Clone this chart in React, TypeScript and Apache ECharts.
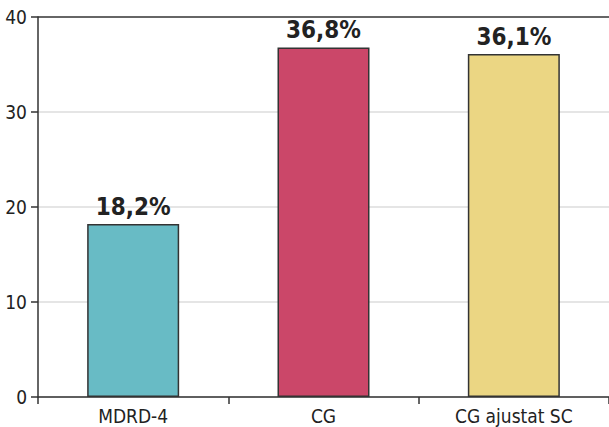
import React, { useEffect, useRef } from "react";
import * as echarts from "echarts";

const categories = ["MDRD-4", "CG", "CG ajustat SC"];
const values = [18.2, 36.8, 36.1];
const labels = ["18,2%", "36,8%", "36,1%"];
const barColors = ["#68BBC5", "#CB4769", "#EBD683"];
const yTicks = [0, 10, 20, 30, 40];

export default function App() {
  const ref = useRef<HTMLDivElement>(null);
  useEffect(() => {
    if (!ref.current) return;
    const chart = echarts.init(ref.current, undefined, { renderer: "svg" });
    const font = "'DejaVu Sans Condensed', 'Liberation Sans Narrow', sans-serif";
    chart.setOption({
      animation: false,
      grid: { left: 38, right: -5, top: 17, bottom: 30, containLabel: false },
      xAxis: {
        type: "category",
        data: categories,
        axisLine: { lineStyle: { color: "#333", width: 1.5 } },
        axisTick: { show: true, length: 7, lineStyle: { color: "#333", width: 1.5 } },
        axisLabel: { color: "#222", fontFamily: font, fontSize: 19, margin: 9 },
      },
      yAxis: {
        type: "value",
        min: yTicks[0],
        max: yTicks[yTicks.length - 1],
        interval: 10,
        axisLine: { show: true, lineStyle: { color: "#333", width: 1.5 } },
        axisTick: { show: true, length: 7, lineStyle: { color: "#333", width: 1.5 } },
        axisLabel: { color: "#222", fontFamily: font, fontSize: 19, margin: 11 },
        splitLine: {
          show: true,
          lineStyle: { color: ["#dddddd", "#dddddd", "#dddddd", "#dddddd", "#333333"], width: 1.5 },
        },
      },
      series: [
        {
          type: "bar",
          barWidth: 92,
          data: values.map((v, i) => ({
            value: v,
            itemStyle: { color: barColors[i], borderColor: "#333", borderWidth: 1.5 },
            label: {
              show: true,
              position: "top",
              distance: 5,
              formatter: labels[i],
              fontFamily: font,
              fontWeight: "bold",
              fontSize: 24,
              color: "#222",
            },
          })),
        },
      ],
    });
    return () => chart.dispose();
  }, []);
  return (
    <div
      ref={ref}
      style={{ position: "fixed", left: 0, top: 0, width: 609, height: 427, background: "#fff" }}
    />
  );
}
